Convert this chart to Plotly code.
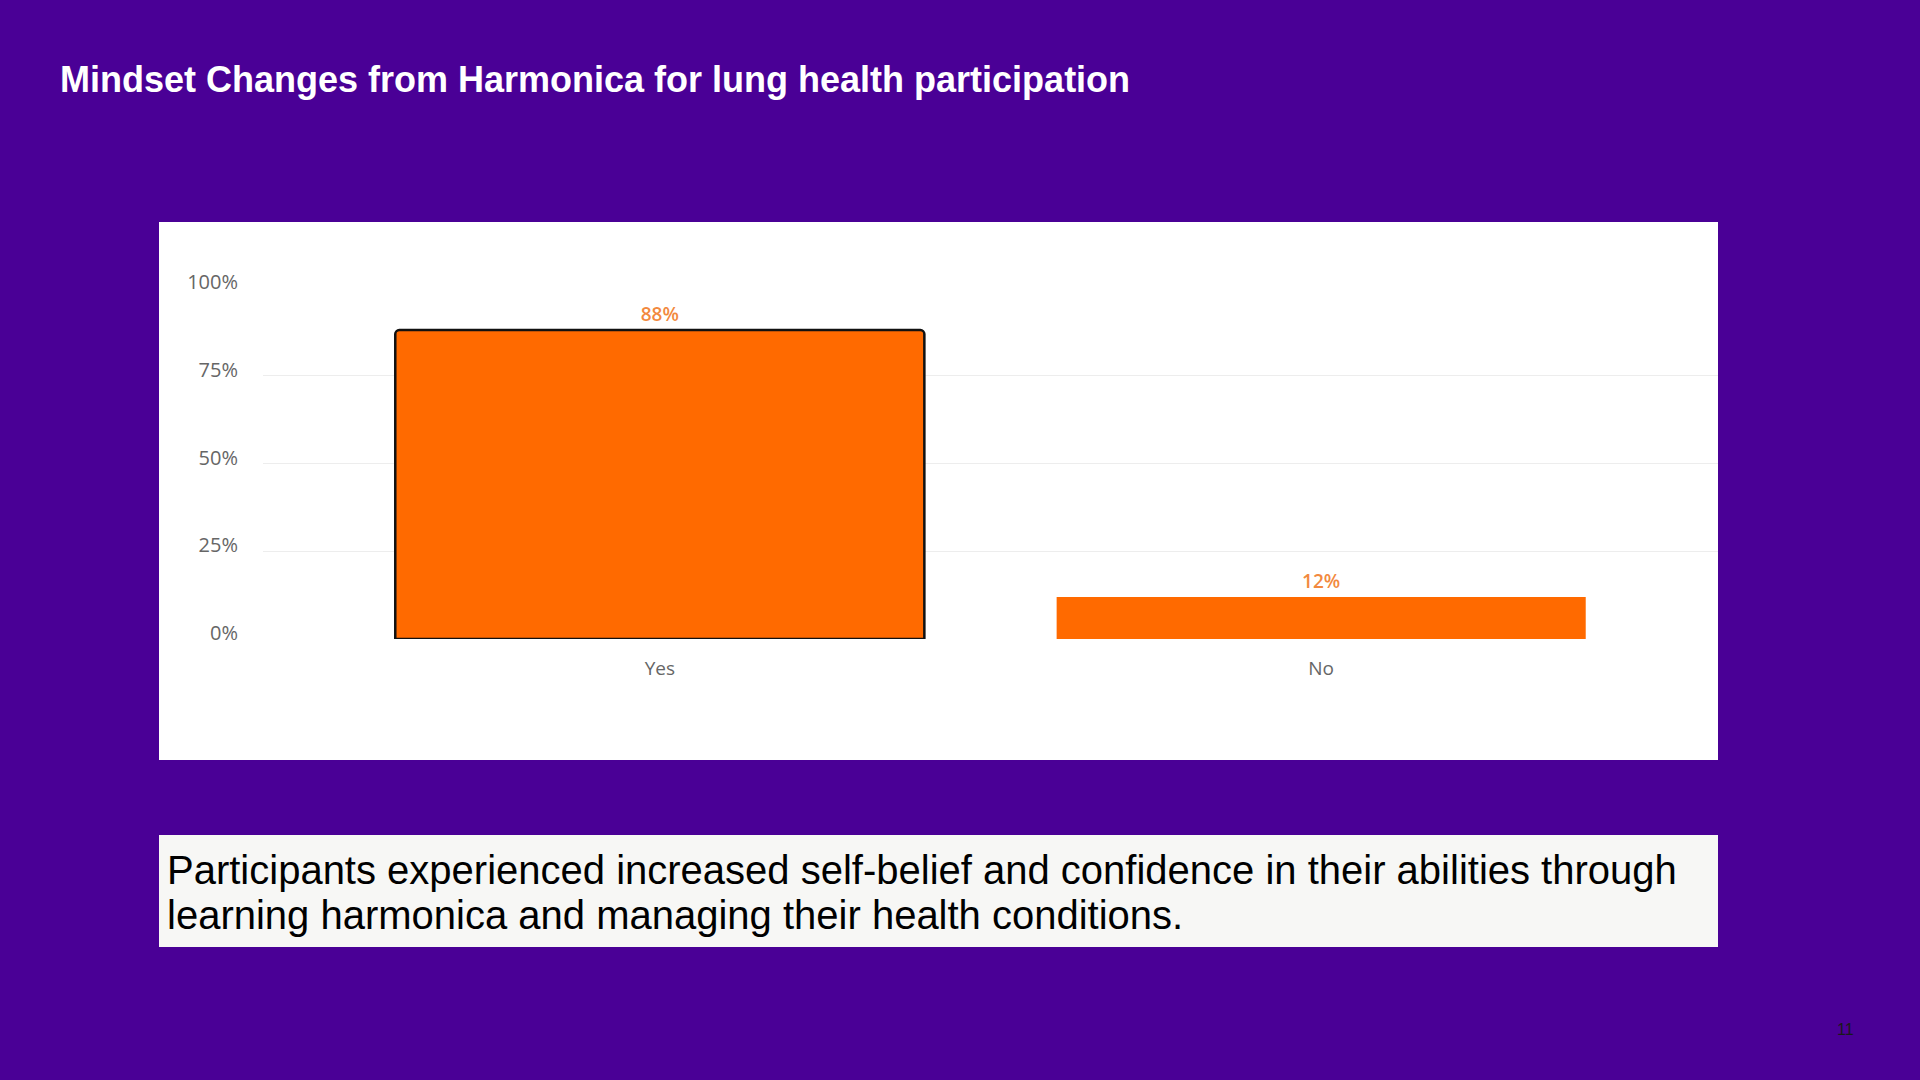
import plotly.graph_objects as go

W, H = 1920, 1080

categories = ["Yes", "No"]
values = [88, 12]
value_labels = ["88%", "12%"]
y_ticks = [0, 25, 50, 75, 100]
y_tick_labels = ["0%", "25%", "50%", "75%", "100%"]

title_text = "Mindset Changes from Harmonica for lung health participation"
summary_lines = [
    "Participants experienced increased self-belief and confidence in their abilities through",
    "learning harmonica and managing their health conditions.",
]
page_number = "11"

BG = "#4A0096"
ORANGE = "#FF6A00"
LABEL_ORANGE = "#F2893E"
border_widths = [2.5, 0]
corner = [4, 0]


def px(x):
    return x / W


def py(y):
    return 1 - y / H


fig = go.Figure()
for i, (c, v) in enumerate(zip(categories, values)):
    fig.add_trace(go.Bar(
        x=[c], y=[v], text=[value_labels[i]], textposition="outside",
        textfont=dict(family="Open Sans", size=19, color=LABEL_ORANGE, weight=600),
        marker=dict(color=ORANGE, line=dict(color="#111111", width=border_widths[i]),
                    cornerradius=corner[i]),
        width=0.8, cliponaxis=False, showlegend=False,
    ))

shapes = [
    dict(type="rect", xref="paper", yref="paper", x0=px(159), x1=px(1718),
         y0=py(760), y1=py(222), fillcolor="white", line=dict(width=0), layer="below"),
    dict(type="rect", xref="paper", yref="paper", x0=px(159), x1=px(1718),
         y0=py(947), y1=py(835), fillcolor="#F7F7F5", line=dict(width=0), layer="below"),
]

line_centers = [870, 915]
annotations = [
    dict(text="<b>" + title_text + "</b>", xref="paper", yref="paper", x=px(58), y=py(79),
         xanchor="left", yanchor="middle", showarrow=False,
         font=dict(family="Liberation Sans", size=36, color="white")),
    dict(text=page_number, xref="paper", yref="paper", x=px(1845), y=py(1029),
         xanchor="center", yanchor="middle", showarrow=False,
         font=dict(family="Liberation Sans", size=16, color="#1a1a1a")),
]
for line, yc in zip(summary_lines, line_centers):
    annotations.append(dict(
        text=line, xref="paper", yref="paper", x=px(165), y=py(yc),
        xanchor="left", yanchor="middle", align="left", showarrow=False,
        font=dict(family="Liberation Sans", size=40, color="black")))

fig.update_layout(
    width=W, height=H, autosize=False,
    margin=dict(l=0, r=0, t=0, b=0, pad=0, autoexpand=False),
    paper_bgcolor=BG, plot_bgcolor="white", barmode="overlay",
    shapes=shapes, annotations=annotations,
    xaxis=dict(domain=[px(263), px(1718)], range=[-0.6, 1.6], type="category",
               showgrid=False, zeroline=False, showline=False, ticks="", automargin=False,
               tickfont=dict(family="Open Sans", size=19, color="#666666"),
               ticklabelstandoff=16),
    yaxis=dict(domain=[py(639), py(288)], range=[0, 100], tickvals=y_ticks,
               ticktext=y_tick_labels, showgrid=True, gridcolor="#EDEDED", gridwidth=1,
               zeroline=False, showline=False, ticks="", automargin=False,
               tickfont=dict(family="Open Sans", size=20, color="#666666"),
               ticklabelstandoff=24, ticklabelshift=-6),
)

fig.write_html(
    "out.html",
    config={"displayModeBar": False},
    post_script="document.body.style.margin='0';document.body.style.overflow='hidden';"
                "document.body.style.background='" + BG + "';",
)
